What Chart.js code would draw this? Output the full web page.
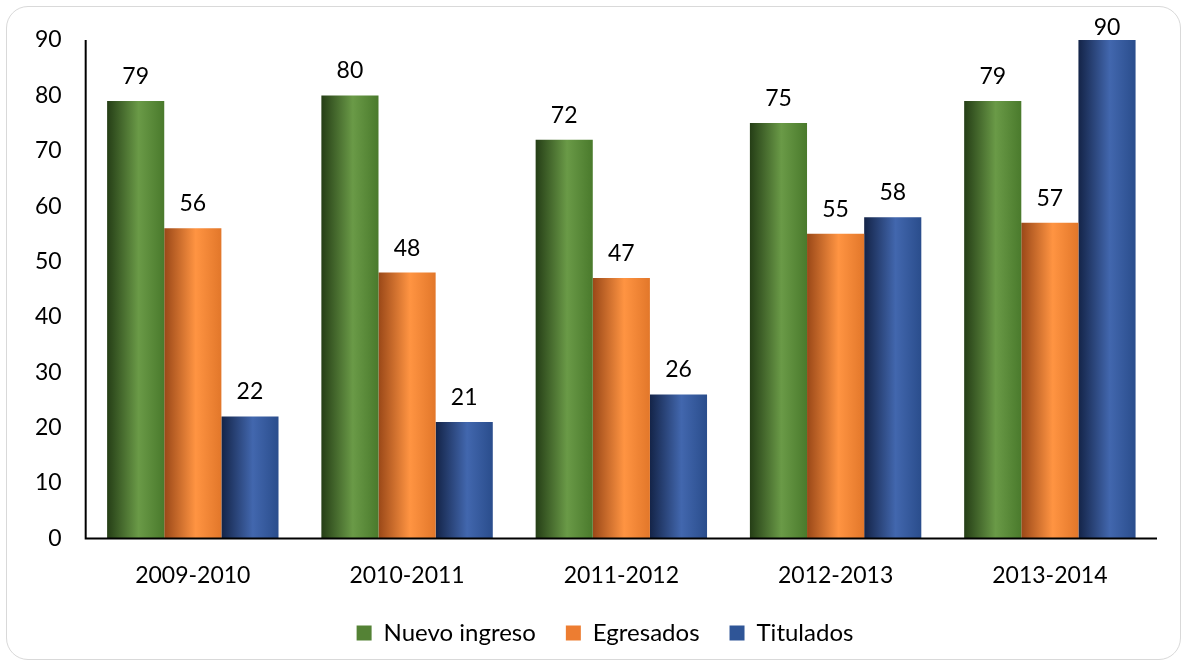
<!DOCTYPE html>
<html>
<head>
<meta charset="utf-8">
<script src="https://cdn.jsdelivr.net/npm/chart.js@4/dist/chart.umd.min.js"></script>
<style>
  html, body { margin: 0; padding: 0; background: #fff; }
  #marco { position: absolute; left: 6px; top: 6px; width: 1175px; height: 654px; border: 1.5px solid #d9d9d9; border-radius: 22px; box-sizing: border-box; }
  #caja { position: absolute; left: 0; top: 0; width: 1187px; height: 668px; }
</style>
</head>
<body>
<div id="marco"></div>
<div id="caja"><canvas id="grafico" width="1187" height="668"></canvas></div>
<script>
const periodos = ['2009-2010', '2010-2011', '2011-2012', '2012-2013', '2013-2014'];
const nuevoIngreso = [79, 80, 72, 75, 79];
const egresados = [56, 48, 47, 55, 57];
const titulados = [22, 21, 26, 58, 90];
const ticksY = [0, 10, 20, 30, 40, 50, 60, 70, 80, 90];

const fuente = "Lato, 'Open Sans', sans-serif";

// colores: [legenda, borde oscuro, centro claro, borde derecho]
const tonos = [
  ['#548235', '#253e16', '#6a9a47', '#4a7a2c'],
  ['#ed7d31', '#9a4818', '#ff9442', '#e2772a'],
  ['#2f5597', '#142448', '#4267ae', '#2a4d8c']
];

function degradado(ctx, i) {
  const chart = ctx.chart;
  const x = chart.scales.x;
  if (!x || ctx.type !== 'data') return tonos[i][0];
  const ancho = x.width / periodos.length * 0.8 / 3;
  const centro = x.getPixelForValue(ctx.dataIndex) + (i - 1) * ancho;
  const izq = centro - ancho / 2;
  const g = chart.ctx.createLinearGradient(izq, 0, izq + ancho, 0);
  g.addColorStop(0, tonos[i][1]);
  g.addColorStop(0.55, tonos[i][2]);
  g.addColorStop(1, tonos[i][3]);
  return g;
}

const etiquetas = {
  id: 'etiquetas',
  afterDatasetsDraw(chart) {
    const c = chart.ctx;
    c.save();
    c.font = '23px ' + fuente;
    c.fillStyle = '#000';
    c.textAlign = 'center';
    c.textBaseline = 'bottom';
    chart.data.datasets.forEach((ds, i) => {
      chart.getDatasetMeta(i).data.forEach((bar, j) => {
        c.fillText(ds.data[j], bar.x, Math.max(bar.y - 13, 39));
      });
    });
    c.restore();
  }
};

const ejes = {
  id: 'ejes',
  afterDatasetsDraw(chart) {
    const a = chart.chartArea;
    const c = chart.ctx;
    c.save();
    c.strokeStyle = '#000';
    c.lineWidth = 2;
    c.beginPath();
    c.moveTo(a.left, a.top);
    c.lineTo(a.left, a.bottom);
    c.lineTo(a.right, a.bottom);
    c.stroke();
    c.restore();
  }
};

// la leyenda va un poco a la derecha, como en el original
const correrLeyenda = {
  id: 'correrLeyenda',
  afterLayout(chart) {
    if (chart.legend) {
      chart.legend.left += 21;
      chart.legend.right += 21;
    }
  }
};

new Chart(document.getElementById('grafico').getContext('2d'), {
  type: 'bar',
  data: {
    labels: periodos,
    datasets: [
      { label: 'Nuevo ingreso', data: nuevoIngreso, backgroundColor: ctx => degradado(ctx, 0) },
      { label: 'Egresados', data: egresados, backgroundColor: ctx => degradado(ctx, 1) },
      { label: 'Titulados', data: titulados, backgroundColor: ctx => degradado(ctx, 2) }
    ]
  },
  options: {
    responsive: false,
    animation: false,
    layout: { padding: { left: 11, right: 30, top: 40, bottom: 13 } },
    datasets: { bar: { categoryPercentage: 0.8, barPercentage: 1.0 } },
    scales: {
      x: {
        grid: { display: false, drawTicks: false },
        border: { display: false },
        ticks: { color: '#000', font: { family: fuente, size: 23 }, padding: 23 },
        afterFit: escala => { escala.height -= 21; }
      },
      y: {
        min: 0, max: 90,
        afterBuildTicks: axis => { axis.ticks = ticksY.map(v => ({ value: v })); },
        grid: { display: false, drawTicks: false },
        border: { display: false },
        ticks: { color: '#000', font: { family: fuente, size: 23 }, padding: 24 }
      }
    },
    plugins: {
      legend: {
        position: 'bottom',
        labels: {
          color: '#000',
          font: { family: fuente, size: 24 },
          boxWidth: 15, boxHeight: 15, padding: 30,
          generateLabels: chart => chart.data.datasets.map((ds, i) => ({
            text: ds.label, fillStyle: tonos[i][0], strokeStyle: tonos[i][0], lineWidth: 0, datasetIndex: i
          }))
        }
      },
      tooltip: { enabled: false }
    }
  },
  plugins: [etiquetas, ejes, correrLeyenda]
});
</script>
</body>
</html>
